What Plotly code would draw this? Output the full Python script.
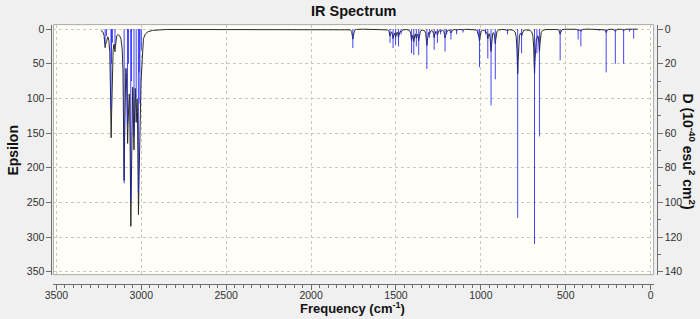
import numpy as np
import plotly.graph_objects as go

# ---- data (stick spectrum, D in 1e-40 esu^2 cm^2) ----
stick_freq = [3213, 3205, 3178, 3176, 3170, 3155, 3101, 3081, 3075, 3062, 3058, 3043, 3030,
              3017, 3012, 3008, 3000,
              1754, 1535, 1517, 1502, 1485, 1470, 1408, 1395, 1380, 1366, 1318, 1302,
              1275, 1256, 1237, 1211, 1202, 1176, 1143, 1105, 1017, 1008, 973, 959, 940,
              915, 843, 783, 760, 684, 670, 655, 533, 427, 411, 305, 262, 208, 159, 124, 100]
stick_D = [9, 4, 46, 20, 8, 10, 89, 55, 20, 99, 30, 62, 40,
           94, 25, 43, 12,
           11, 8, 11, 9, 10, 3, 14, 15, 10, 15, 23, 5,
           12, 8, 3, 13, 3, 6, 3, 2, 3, 22, 3, 17, 44,
           29, 3, 109, 14, 124, 14, 62, 18, 6, 10, 1, 25, 20, 20, 1.5, 5.5]

x_ticks = [3500, 3000, 2500, 2000, 1500, 1000, 500, 0]
eps_ticks = [0, 50, 100, 150, 200, 250, 300, 350]
d_ticks = [0, 20, 40, 60, 80, 100, 120, 140]

# ---- broadened (Lorentzian, HWHM 4 cm-1) epsilon curve derived from the sticks ----
HWHM = 4.0
K = 7.5e-4
f = np.asarray(stick_freq, float)
d = np.asarray(stick_D, float)
grid = np.arange(f.max() + 25, f.min() - 24, -0.5)
eps = np.zeros_like(grid)
for fi, di in zip(f, d):
    eps += K * di * fi * HWHM**2 / ((grid - fi) ** 2 + HWHM**2)

sx, sy = [], []
for fi, di in zip(stick_freq, stick_D):
    sx += [fi, fi, None]
    sy += [0, di, None]

W, H = 700, 319
L, R, T, B = 45, 653, 23, 277
px = lambda x: x / W
py = lambda y: 1 - y / H
ppu_x = (650 - 48) / 3500
ppu_y = (274 - 27.5) / 350
xr = [3500 + (48 - L) / ppu_x, 0 - (R - 650) / ppu_x]
yr = [350 + (B - 274) / ppu_y, 0 - (27.5 - T) / ppu_y]

fig = go.Figure()
fig.add_trace(go.Scatter(x=grid, y=eps, mode="lines", line=dict(color="#2a2a2a", width=1),
                         xaxis="x", yaxis="y", hoverinfo="skip", showlegend=False))
fig.add_trace(go.Scatter(x=sx, y=sy, mode="lines", line=dict(color="rgba(20,20,255,0.8)", width=1),
                         xaxis="x", yaxis="y2", hoverinfo="skip", showlegend=False))

tickfont = dict(family="Liberation Sans, Arial", size=10.5, color="#303030")
axcol = "#6e6e6e"
gridcol = "#c8c8c8"

fig.update_layout(
    width=W, height=H,
    margin=dict(l=0, r=0, t=0, b=0),
    paper_bgcolor="#f0f0f0",
    plot_bgcolor="#fffff7",
    showlegend=False,
    xaxis=dict(domain=[px(L), px(R)], range=xr, anchor="free", position=py(286),
               showline=True, linecolor=axcol, linewidth=1,
               ticks="outside", ticklen=5, tickcolor=axcol, tickvals=x_ticks,
               tickfont=tickfont, zeroline=False, ticklabelstandoff=-3,
               showgrid=True, gridcolor=gridcol, griddash="dot", gridwidth=1,
               minor=dict(dtick=50, ticks="outside", ticklen=3, tickcolor=axcol, showgrid=False)),
    yaxis=dict(domain=[py(B), py(T)], range=yr, anchor="free", position=px(43), side="left",
               showline=True, linecolor=axcol, linewidth=1,
               ticks="outside", ticklen=5, tickcolor=axcol, tickvals=eps_ticks,
               tickfont=tickfont, zeroline=False,
               showgrid=True, gridcolor=gridcol, griddash="dot", gridwidth=1),
    yaxis2=dict(overlaying="y", range=[v / 2.5 for v in yr], anchor="free", position=px(656),
                side="right", showline=True, linecolor=axcol, linewidth=1,
                ticks="outside", ticklen=5, tickcolor=axcol, tickvals=d_ticks,
                tickfont=tickfont, zeroline=False, showgrid=False,
                minor=dict(dtick=10, ticks="outside", ticklen=3, tickcolor=axcol, showgrid=False)),
    shapes=[dict(type="rect", xref="paper", yref="paper", x0=px(L), x1=px(R), y0=py(B), y1=py(T),
                 line=dict(color="#a8a8a8", width=1), fillcolor="rgba(0,0,0,0)", layer="above")],
)

tfont = dict(family="Liberation Sans, Arial", size=14, color="#111")
xtfont = dict(family="Liberation Sans, Arial", size=13, color="#111")
fig.add_annotation(text="<b>IR Spectrum</b>", x=px(349), y=py(9), xref="paper", yref="paper",
                   showarrow=False, font=dict(tfont, size=14.5), xanchor="center", yanchor="middle")
fig.add_annotation(text="<b>Epsilon</b>", x=px(4), y=py(150), xref="paper", yref="paper",
                   showarrow=False, font=tfont, textangle=-90, xanchor="center", yanchor="middle")
fig.add_annotation(text="<b>Frequency (cm<sup>-1</sup>)</b>", x=px(348), y=py(311), xref="paper",
                   yref="paper", showarrow=False, font=xtfont, xanchor="center", yanchor="middle")
fig.add_annotation(text="<b>D (10<sup>-40</sup> esu<sup>2</sup> cm<sup>2</sup>)</b>", x=px(689),
                   y=py(152), xref="paper", yref="paper", showarrow=False, font=tfont,
                   textangle=90, xanchor="center", yanchor="middle")

fig.write_html("out.html")
